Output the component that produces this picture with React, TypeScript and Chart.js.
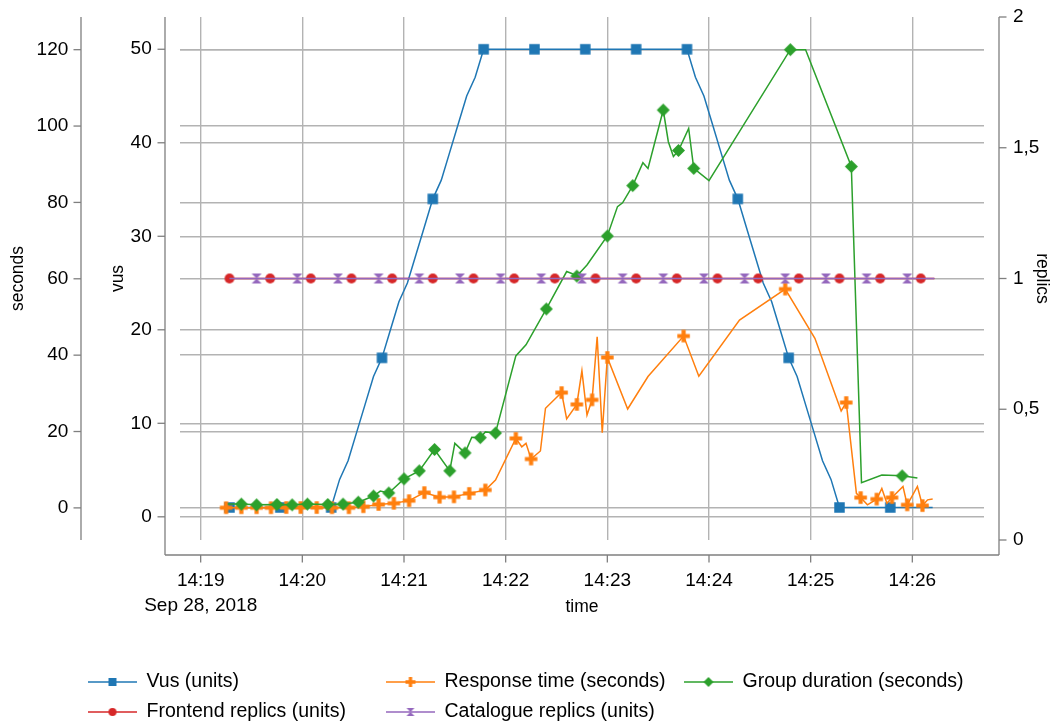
import React, { useEffect, useRef } from 'react';
import { Chart, registerables } from 'chart.js';

Chart.register(...registerables);

// ---------- data (x = seconds after 14:19:00, Sep 28, 2018) ----------
const timeTickValues = [0, 60, 120, 180, 240, 300, 360, 420];
const timeTickLabels: (string | string[])[] = [
  ['14:19', 'Sep 28, 2018'], '14:20', '14:21', '14:22', '14:23', '14:24', '14:25', '14:26',
];
const secondsTicks = [0, 20, 40, 60, 80, 100, 120];
const vusTicks = [0, 10, 20, 30, 40, 50];
const replicaTicks = [0, 0.5, 1, 1.5, 2];
const replicaTickLabels = ['0', '0,5', '1', '1,5', '2'];

const vusTimes = [
  17, 22, 27, 32, 37, 42, 47, 52, 57, 62, 67, 72, 77, 82, 87, 92, 97, 102, 107, 112, 117, 122, 127, 132,
  137, 142, 147, 152, 157, 162, 167, 172, 177, 182, 187, 192, 197, 202, 207, 212, 217, 222, 227, 232, 237,
  242, 247, 252, 257, 262, 267, 272, 277, 282, 287, 292, 297, 302, 307, 312, 317, 322, 327, 332, 337, 342,
  347, 352, 357, 362, 367, 372, 377, 382, 387, 392, 397, 402, 407, 412, 417, 422, 427, 432,
];
const vusValues = [
  1, 1, 1, 1, 1, 1, 1, 1, 1, 1, 1, 1, 1,
  4, 6, 9, 12, 15, 17, 20, 23, 25, 28, 31, 34, 36, 39, 42, 45, 47, 50,
  50, 50, 50, 50, 50, 50, 50, 50, 50, 50, 50, 50, 50, 50, 50, 50, 50, 50, 50, 50, 50, 50, 50, 50,
  47, 45, 42, 39, 36, 34, 31, 28, 25, 23, 20, 17, 15, 12, 9, 6, 4, 1,
  1, 1, 1, 1, 1, 1, 1, 1, 1, 1, 1,
];

const responseTimes = [
  15, 24, 33, 41.5, 50.5, 59, 68.5, 77.5, 87.5, 96, 105, 114, 123, 132, 141, 149.5, 158.5, 168, 174,
  186, 189.5, 192, 195, 200.5, 203.5, 213, 216, 222, 225, 228, 231, 234, 237, 240, 252, 264, 285, 294,
  318, 345, 362.5, 378, 381, 387, 389.5, 393.5, 399, 402, 405, 408, 414.5, 417, 423, 426, 429, 432,
];
const responseValues = [
  0.05, 0.05, 0.05, 0.05, 0.1, 0.1, 0.1, 0.05, 0.05, 0.3, 0.9, 1.2, 1.9, 4.0, 2.8, 2.9, 3.8, 4.7, 7.3,
  18.2, 16.0, 16.9, 12.8, 14.9, 26.1, 30.2, 23.3, 27.1, 35.9, 24.3, 28.3, 44.8, 19.7, 39.4, 25.9, 34.4, 45.0, 34.5,
  49.2, 57.3, 44.4, 25.4, 27.6, 3.8, 2.7, 0.8, 2.3, 5.1, 1.2, 2.7, 5.6, 0.8, 5.6, 0.6, 2.1, 2.3,
];
const responseMarked = [
  0, 1, 2, 3, 4, 5, 6, 7, 8, 9, 10, 11, 12, 13, 14, 15, 16, 17, 19, 22, 25, 27, 30, 33, 36, 39, 42, 44, 46, 49, 51, 53,
];

const groupTimes = [
  16, 24, 33, 45, 54, 63, 75, 84, 93, 102, 106, 111, 120, 129, 138, 147, 150, 156, 160, 165, 168, 174,
  186, 192, 204, 216, 219, 222, 228, 240, 246, 249, 255, 261, 264, 273, 276, 279, 282, 288, 291, 300,
  348, 357, 384, 390, 402, 414, 423,
];
const groupValues = [
  1.0, 1.0, 0.8, 0.9, 0.8, 1.0, 0.9, 1.0, 1.5, 3.1, 4.4, 3.9, 7.6, 9.7, 15.3, 9.7, 16.9, 14.4, 18.5, 18.4, 19.9, 19.6,
  39.8, 42.7, 52.1, 61.9, 61.4, 60.7, 63.6, 71.2, 78.9, 79.9, 84.4, 90.4, 88.9, 104.2, 95.9, 92.0, 93.6, 99.4, 88.9, 85.7,
  120, 120, 89.4, 6.6, 8.6, 8.4, 7.8,
];
const groupMarked = [1, 2, 3, 4, 5, 6, 7, 8, 9, 11, 12, 13, 14, 15, 17, 19, 21, 24, 27, 29, 32, 35, 38, 40, 42, 44, 47];

const replicaTimes = [
  17, 25, 33, 41, 49, 57, 65, 73, 81, 89, 97, 105, 113, 121, 129, 137, 145, 153, 161, 169, 177, 185, 193,
  201, 209, 217, 225, 233, 241, 249, 257, 265, 273, 281, 289, 297, 305, 313, 321, 329, 337, 345, 353, 361,
  369, 377, 385, 393, 401, 409, 417, 425, 433,
];
const frontendReplicas = [
  1, 1, 1, 1, 1, 1, 1, 1, 1, 1, 1, 1, 1, 1, 1, 1, 1, 1, 1, 1, 1, 1, 1, 1, 1, 1, 1,
  1, 1, 1, 1, 1, 1, 1, 1, 1, 1, 1, 1, 1, 1, 1, 1, 1, 1, 1, 1, 1, 1, 1, 1, 1, 1,
];
const catalogueReplicas = [
  1, 1, 1, 1, 1, 1, 1, 1, 1, 1, 1, 1, 1, 1, 1, 1, 1, 1, 1, 1, 1, 1, 1, 1, 1, 1, 1,
  1, 1, 1, 1, 1, 1, 1, 1, 1, 1, 1, 1, 1, 1, 1, 1, 1, 1, 1, 1, 1, 1, 1, 1, 1, 1,
];

// ---------- styling ----------
const FONT = '"Liberation Sans", Arial, Helvetica, sans-serif';
const BLUE = '#1f77b4';
const ORANGE = '#ff7f0e';
const GREEN = '#2ca02c';
const RED = '#d62728';
const PURPLE = '#9467bd';
const GRID = '#b3b3b3';
const AXIS = '#7f7f7f';
const AXIS_GAP = 15;
const TICK_LEN = 7.5;

function makeMarker(kind: string, color: string, size: number): HTMLCanvasElement {
  const c = document.createElement('canvas');
  const dim = Math.ceil(size) + 2;
  c.width = dim;
  c.height = dim;
  const g = c.getContext('2d')!;
  const m = dim / 2;
  const h = size / 2;
  g.fillStyle = color;
  g.beginPath();
  if (kind === 'square') g.rect(m - h, m - h, size, size);
  else if (kind === 'circle') g.arc(m, m, h, 0, Math.PI * 2);
  else if (kind === 'diamond') {
    g.moveTo(m, m - h); g.lineTo(m + h, m); g.lineTo(m, m + h); g.lineTo(m - h, m); g.closePath();
  } else if (kind === 'plus') {
    const t = size / 3;
    g.rect(m - h, m - t / 2, size, t);
    g.rect(m - t / 2, m - h, t, size);
  } else if (kind === 'hourglass') {
    g.moveTo(m - h, m - h); g.lineTo(m + h, m - h); g.lineTo(m, m);
    g.lineTo(m + h, m + h); g.lineTo(m - h, m + h); g.lineTo(m, m); g.closePath();
  }
  g.fill();
  return c;
}

const offsetAxesPlugin = {
  id: 'offsetAxes',
  afterDraw(chart: any) {
    const { ctx, chartArea, scales } = chart;
    const { left, right, top, bottom } = chartArea;
    const seg = (x1: number, y1: number, x2: number, y2: number) => {
      ctx.beginPath(); ctx.moveTo(x1, y1); ctx.lineTo(x2, y2); ctx.stroke();
    };
    ctx.save();
    ctx.strokeStyle = AXIS;
    ctx.lineWidth = 1.3;
    const xAxisY = bottom + AXIS_GAP;
    const vusX = left - AXIS_GAP;
    const repX = right + AXIS_GAP;
    const secX = scales.secs.right;
    seg(vusX, xAxisY, repX, xAxisY);
    scales.x.ticks.forEach((t: any) => {
      const p = scales.x.getPixelForValue(t.value);
      seg(p, xAxisY, p, xAxisY + TICK_LEN);
    });
    seg(vusX, top, vusX, xAxisY);
    scales.vus.ticks.forEach((t: any) => {
      const p = scales.vus.getPixelForValue(t.value);
      seg(vusX - TICK_LEN, p, vusX, p);
    });
    seg(secX, top, secX, bottom);
    scales.secs.ticks.forEach((t: any) => {
      const p = scales.secs.getPixelForValue(t.value);
      seg(secX - TICK_LEN, p, secX, p);
    });
    seg(repX, top, repX, xAxisY);
    scales.rep.ticks.forEach((t: any) => {
      const p = scales.rep.getPixelForValue(t.value);
      seg(repX, p, repX + TICK_LEN, p);
    });
    ctx.restore();
  },
};

const legendSlots = [[88, 682], [386, 682], [684, 682], [88, 712], [386, 712]];

function makeLegendPlugin(legendMarkers: HTMLCanvasElement[]) {
  return {
    id: 'gridLegend',
    afterDraw(chart: any) {
      const { ctx } = chart;
      ctx.save();
      chart.data.datasets.forEach((ds: any, i: number) => {
        const [x, y] = legendSlots[i];
        ctx.strokeStyle = ds.borderColor;
        ctx.lineWidth = 1.5;
        ctx.beginPath(); ctx.moveTo(x, y); ctx.lineTo(x + 49, y); ctx.stroke();
        const mk = legendMarkers[i];
        ctx.drawImage(mk, x + 24.5 - mk.width / 2, y - mk.height / 2);
        ctx.fillStyle = '#000';
        ctx.font = '19.5px ' + FONT;
        ctx.textBaseline = 'middle';
        ctx.textAlign = 'left';
        ctx.fillText(ds.label, x + 58.5, y);
      });
      ctx.restore();
    },
  };
}

const toPoints = (xs: number[], ys: number[]) => xs.map((x, i) => ({ x, y: ys[i] }));

const fixBox = (w?: number, h?: number) => (s: any) => {
  if (w !== undefined) s.width = w;
  if (h !== undefined) s.height = h;
  s.paddingTop = 0;
  s.paddingBottom = 0;
  s.paddingLeft = 0;
  s.paddingRight = 0;
};

export default function App() {
  const ref = useRef<HTMLCanvasElement | null>(null);

  useEffect(() => {
    if (!ref.current) return;
    Chart.defaults.font.family = FONT;
    Chart.defaults.color = '#000';

    const mk = {
      vus: makeMarker('square', BLUE, 10.5),
      resp: makeMarker('plus', ORANGE, 12.5),
      group: makeMarker('diamond', GREEN, 13),
      front: makeMarker('circle', RED, 9.8),
      cat: makeMarker('hourglass', PURPLE, 10),
    };
    const legendMarkers = [
      makeMarker('square', BLUE, 8),
      makeMarker('plus', ORANGE, 10),
      makeMarker('diamond', GREEN, 10),
      makeMarker('circle', RED, 8),
      makeMarker('hourglass', PURPLE, 8),
    ];
    const respSet = new Set(responseMarked);
    const groupSet = new Set(groupMarked);

    const tickFont = { size: 19, lineHeight: 1.3 };
    const titleFont = { size: 17.5 };
    const gridOpts = { color: GRID, lineWidth: 1.4, drawTicks: false };

    const chart = new Chart(ref.current, {
      type: 'line',
      data: {
        datasets: [
          {
            label: 'Vus (units)', yAxisID: 'vus', data: toPoints(vusTimes, vusValues),
            borderColor: BLUE, backgroundColor: BLUE, borderWidth: 1.5, pointStyle: mk.vus,
            pointRadius: (c: any) => (c.dataIndex % 6 === 0 ? 5 : 0), order: 5,
          },
          {
            label: 'Response time (seconds)', yAxisID: 'secs', data: toPoints(responseTimes, responseValues),
            borderColor: ORANGE, backgroundColor: ORANGE, borderWidth: 1.5, pointStyle: mk.resp,
            pointRadius: (c: any) => (respSet.has(c.dataIndex) ? 6 : 0), order: 4,
          },
          {
            label: 'Group duration (seconds)', yAxisID: 'secs', data: toPoints(groupTimes, groupValues),
            borderColor: GREEN, backgroundColor: GREEN, borderWidth: 1.5, pointStyle: mk.group,
            pointRadius: (c: any) => (groupSet.has(c.dataIndex) ? 6 : 0), order: 3,
          },
          {
            label: 'Frontend replics (units)', yAxisID: 'rep', data: toPoints(replicaTimes, frontendReplicas),
            borderColor: RED, backgroundColor: RED, borderWidth: 1.5, pointStyle: mk.front,
            pointRadius: (c: any) => (c.dataIndex % 3 === 0 ? 5 : 0), order: 2,
          },
          {
            label: 'Catalogue replics (units)', yAxisID: 'rep', data: toPoints(replicaTimes, catalogueReplicas),
            borderColor: PURPLE, backgroundColor: PURPLE, borderWidth: 1.5, pointStyle: mk.cat,
            pointRadius: (c: any) => (c.dataIndex % 3 === 2 ? 5 : 0), order: 1,
          },
        ],
      },
      options: {
        responsive: false,
        animation: false,
        events: [],
        layout: { padding: { top: 17, bottom: 106, left: 0, right: 0 } },
        plugins: { legend: { display: false }, tooltip: { enabled: false } },
        elements: { line: { tension: 0 }, point: { borderWidth: 0 } },
        scales: {
          x: {
            type: 'linear', position: 'bottom', min: -12.2, max: 462.3,
            afterBuildTicks: (s: any) => { s.ticks = timeTickValues.map((v) => ({ value: v })); },
            afterFit: fixBox(undefined, 78),
            ticks: {
              font: tickFont, padding: 28.5, autoSkip: false, maxRotation: 0, minRotation: 0,
              callback: (v: any) => timeTickLabels[timeTickValues.indexOf(Number(v))],
            },
            grid: gridOpts,
            border: { display: false },
            title: { display: true, text: 'time', font: titleFont, padding: 0 },
          },
          secs: {
            type: 'linear', position: 'left', weight: 1, min: -8.41, max: 128.56,
            afterBuildTicks: (s: any) => { s.ticks = secondsTicks.map((v) => ({ value: v })); },
            afterFit: fixBox(81),
            ticks: { font: tickFont, padding: 12.7, callback: (v: any) => String(v) },
            grid: gridOpts,
            border: { display: false },
            title: { display: true, text: 'seconds', font: titleFont, padding: { top: 8, bottom: 0 } },
          },
          vus: {
            type: 'linear', position: 'left', weight: 0, min: -2.48, max: 53.45,
            afterBuildTicks: (s: any) => { s.ticks = vusTicks.map((v) => ({ value: v })); },
            afterFit: fixBox(99),
            ticks: { font: tickFont, padding: 28.3, callback: (v: any) => String(v) },
            grid: gridOpts,
            border: { display: false },
            title: { display: true, text: 'vus', font: titleFont, padding: { top: 27, bottom: 0 } },
          },
          rep: {
            type: 'linear', position: 'right', min: 0, max: 2,
            afterBuildTicks: (s: any) => { s.ticks = replicaTicks.map((v) => ({ value: v })); },
            afterFit: fixBox(70),
            ticks: {
              font: tickFont, padding: 29,
              callback: (v: any) => replicaTickLabels[replicaTicks.indexOf(Number(v))],
            },
            grid: { display: false, drawTicks: false },
            border: { display: false },
            title: { display: true, text: 'replics', font: titleFont, padding: { top: 1.5, bottom: 0 } },
          },
        },
      } as any,
      plugins: [offsetAxesPlugin, makeLegendPlugin(legendMarkers)],
    });

    return () => chart.destroy();
  }, []);

  return (
    <div style={{ position: 'fixed', left: 0, top: 0, width: 1054, height: 724, background: '#fff' }}>
      <canvas ref={ref} width={1054} height={724} style={{ width: 1054, height: 724, display: 'block' }} />
    </div>
  );
}
